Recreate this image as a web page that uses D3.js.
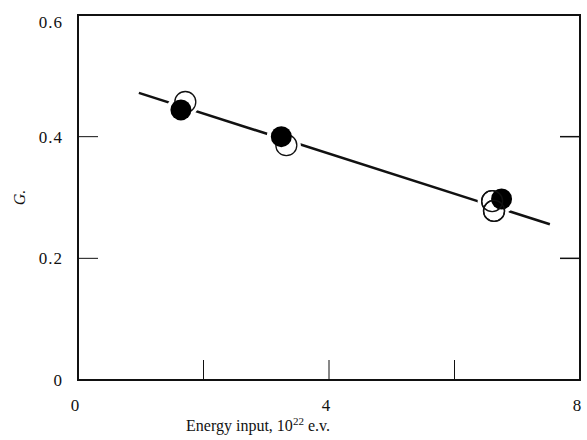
<!DOCTYPE html>
<html>
<head>
<meta charset="utf-8">
<script src="https://cdn.jsdelivr.net/npm/d3@7/dist/d3.min.js"></script>
<style>
  body { margin: 0; background: #fff; }
  svg { display: block; }
  text { font-family: "Liberation Serif", "DejaVu Serif", serif; fill: #111; }
</style>
</head>
<body>
<svg id="chart" width="587" height="440"></svg>
<script>
// ---- data ----
const openX = [1.71, 3.32, 6.60, 6.63];
const openY = [0.457, 0.386, 0.294, 0.278];
const filledX = [1.64, 3.24, 6.75];
const filledY = [0.444, 0.400, 0.2975];
const fitX = [0.97, 7.52];
const fitY = [0.472, 0.256];
const xTickLabels = [0, 4, 8];
const xMinorTicks = [2, 4, 6];
const yTickLabels = [0, 0.2, 0.4, 0.6];
const yInnerTicks = [0.2, 0.4];

const svg = d3.select("#chart");
const plotL = 78, plotR = 580, plotT = 15, plotB = 380;
const x = d3.scaleLinear().domain([0, 8]).range([plotL, plotR]);
const y = d3.scaleLinear().domain([0, 0.6]).range([plotB, plotT]);

// frame
svg.append("rect").attr("x", plotL).attr("y", plotT)
  .attr("width", plotR - plotL).attr("height", plotB - plotT)
  .attr("fill", "none").attr("stroke", "#111").attr("stroke-width", 2);

// inner ticks
const tickLen = 20;
svg.selectAll(".xt").data(xMinorTicks).enter().append("line")
  .attr("x1", d => x(d)).attr("x2", d => x(d))
  .attr("y1", plotB).attr("y2", plotB - tickLen)
  .attr("stroke", "#111").attr("stroke-width", 1);
svg.selectAll(".ytl").data(yInnerTicks).enter().append("line")
  .attr("x1", plotL).attr("x2", plotL + tickLen)
  .attr("y1", d => y(d)).attr("y2", d => y(d))
  .attr("stroke", "#111").attr("stroke-width", 1);
svg.selectAll(".ytr").data(yInnerTicks).enter().append("line")
  .attr("x1", plotR).attr("x2", plotR - tickLen)
  .attr("y1", d => y(d)).attr("y2", d => y(d))
  .attr("stroke", "#111").attr("stroke-width", 1.5);

// tick labels
svg.selectAll(".xl").data(xTickLabels).enter().append("text")
  .attr("x", d => x(d) - 3).attr("y", 411)
  .attr("text-anchor", "middle").attr("font-size", 17)
  .text(d => d);
svg.selectAll(".yl").data(yTickLabels).enter().append("text")
  .attr("x", 63).attr("y", d => Math.max(y(d) + 6, 28))
  .attr("text-anchor", "end").attr("font-size", 17)
  .attr("letter-spacing", 1)
  .text(d => d === 0 ? "0" : d.toFixed(1));

// axis titles
const xt = svg.append("text").attr("x", 258).attr("y", 431)
  .attr("text-anchor", "middle").attr("font-size", 16);
xt.append("tspan").text("Energy input, 10");
xt.append("tspan").attr("font-size", 11).attr("dy", -6).text("22");
xt.append("tspan").attr("dy", 6).text(" e.v.");

svg.append("text")
  .attr("transform", "translate(25," + (y(0.3)) + ") rotate(-90)")
  .attr("text-anchor", "middle").attr("font-size", 16)
  .attr("font-style", "italic").text("G.");

// fit line
const line = d3.line().x(d => x(d[0])).y(d => y(d[1]));
svg.append("path").datum(d3.zip(fitX, fitY))
  .attr("d", line).attr("fill", "none")
  .attr("stroke", "#111").attr("stroke-width", 2.5);

const r = 10.5;
const allPts = d3.zip(openX, openY).concat(d3.zip(filledX, filledY));
// white halos breaking the line
svg.selectAll(".halo").data(allPts).enter().append("circle")
  .attr("cx", d => x(d[0])).attr("cy", d => y(d[1]))
  .attr("r", r + 4).attr("fill", "#fff");

// open circles
svg.selectAll(".open").data(d3.zip(openX, openY)).enter().append("circle")
  .attr("cx", d => x(d[0])).attr("cy", d => y(d[1]))
  .attr("r", r).attr("fill", "#fff").attr("stroke", "#111").attr("stroke-width", 1.3);
// filled circles
svg.selectAll(".filled").data(d3.zip(filledX, filledY)).enter().append("circle")
  .attr("cx", d => x(d[0])).attr("cy", d => y(d[1]))
  .attr("r", r).attr("fill", "#000");
// open circles 3a/3b outlines redrawn so both remain visible
svg.selectAll(".open2").data(d3.zip(openX, openY).slice(2)).enter().append("circle")
  .attr("cx", d => x(d[0])).attr("cy", d => y(d[1]))
  .attr("r", r).attr("fill", "none").attr("stroke", "#111").attr("stroke-width", 1.3);
</script>
</body>
</html>
